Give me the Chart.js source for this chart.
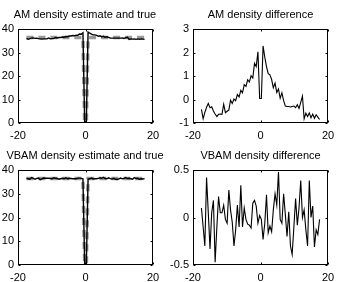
<!DOCTYPE html>
<html lang="en">
<head>
<meta charset="UTF-8">
<title>AM / VBAM density</title>
<script src="https://cdn.jsdelivr.net/npm/chart.js"></script>
<style>
    body { margin: 0; background: #fff; }
    #wrap { position: relative; width: 339px; height: 282px; overflow: hidden; }
    canvas { position: absolute; }
</style>
</head>
<body>
<div id="wrap">
    <canvas id="amEst" width="170" height="141" style="left:0;top:0"></canvas>
    <canvas id="amDiff" width="185" height="141" style="left:168px;top:0"></canvas>
    <canvas id="vbEst" width="170" height="141" style="left:0;top:141px"></canvas>
    <canvas id="vbDiff" width="185" height="141" style="left:168px;top:141px"></canvas>
</div>
<script>
// grid points (x)
const xs = [-17.50, -16.99, -16.49, -15.98, -15.47, -14.96, -14.46, -13.95, -13.44, -12.93,
    -12.43, -11.92, -11.41, -10.91, -10.40, -9.89, -9.38, -8.88, -8.37, -7.86,
    -7.36, -6.85, -6.34, -5.83, -5.33, -4.82, -4.31, -3.80, -3.30, -2.79,
    -2.28, -1.78, -1.27, -0.76, -0.25, 0.25, 0.76, 1.27, 1.78, 2.28,
    2.79, 3.30, 3.80, 4.31, 4.82, 5.33, 5.83, 6.34, 6.85, 7.36,
    7.86, 8.37, 8.88, 9.38, 9.89, 10.40, 10.91, 11.41, 11.92, 12.43,
    12.93, 13.44, 13.95, 14.46, 14.96, 15.47, 15.98, 16.49, 16.99, 17.50];

// true density (gray dashed)
const trueDensity = [36.4, 36.4, 36.4, 36.4, 36.4, 36.4, 36.4, 36.4, 36.4, 36.4,
    36.4, 36.4, 36.4, 36.4, 36.4, 36.4, 36.4, 36.4, 36.4, 36.4,
    36.4, 36.4, 36.4, 36.4, 36.4, 36.4, 36.4, 36.4, 36.4, 36.4,
    36.4, 36.4, 36.4, 36.4, 0.5, 0.5, 36.4, 36.4, 36.4, 36.4,
    36.4, 36.4, 36.4, 36.4, 36.4, 36.4, 36.4, 36.4, 36.4, 36.4,
    36.4, 36.4, 36.4, 36.4, 36.4, 36.4, 36.4, 36.4, 36.4, 36.4,
    36.4, 36.4, 36.4, 36.4, 36.4, 36.4, 36.4, 36.4, 36.4, 36.4];

// AM estimate and difference
const amEst = [36.0, 35.6, 35.9, 36.1, 36.2, 36.0, 36.1, 35.9, 35.8, 35.7,
    35.8, 35.8, 35.8, 36.2, 35.8, 35.9, 36.0, 36.4, 36.2, 36.4,
    36.4, 36.6, 36.5, 36.8, 36.7, 37.0, 37.0, 37.2, 37.1, 37.4,
    37.3, 37.9, 37.8, 38.4, 0.5, 0.5, 38.7, 38.2, 37.8, 37.5,
    37.5, 37.3, 36.9, 37.1, 36.7, 36.9, 36.5, 36.7, 36.4, 36.1,
    36.1, 36.1, 36.1, 36.1, 36.1, 36.1, 36.2, 36.0, 36.3, 36.5,
    35.6, 35.8, 35.7, 35.8, 35.6, 35.8, 35.6, 35.8, 35.7, 35.6];
const amDiff = [-0.42, -0.82, -0.55, -0.33, -0.17, -0.35, -0.31, -0.49, -0.62, -0.73,
    -0.63, -0.62, -0.63, -0.20, -0.56, -0.50, -0.45, -0.03, -0.17, 0.02,
    -0.05, 0.21, 0.11, 0.39, 0.28, 0.63, 0.56, 0.84, 0.74, 1.01,
    0.91, 1.54, 1.40, 2.03, 0.04, 0.04, 2.28, 1.80, 1.40, 1.10,
    1.05, 0.85, 0.50, 0.70, 0.30, 0.45, 0.05, 0.28, -0.05, -0.28,
    -0.30, -0.30, -0.32, -0.30, -0.28, -0.35, -0.22, -0.38, -0.12, 0.14,
    -0.82, -0.58, -0.72, -0.57, -0.78, -0.62, -0.80, -0.65, -0.75, -0.85];

// VBAM estimate and difference
const vbEst = [36.5, 36.3, 36.1, 36.8, 36.5, 36.1, 36.5, 36.6, 35.9, 36.3,
    36.6, 36.5, 36.5, 36.5, 36.4, 36.3, 36.7, 36.5, 36.4, 36.1,
    36.3, 36.5, 36.3, 36.7, 36.3, 36.5, 36.4, 36.3, 36.3, 36.3,
    36.6, 36.6, 36.5, 36.3, 0.5, 0.5, 36.2, 36.3, 36.6, 36.2,
    36.3, 36.3, 36.5, 36.7, 36.5, 36.9, 36.4, 36.3, 36.7, 36.4,
    36.2, 36.5, 36.1, 36.0, 36.3, 36.6, 36.3, 36.5, 36.8, 36.4,
    36.5, 36.3, 36.1, 36.8, 36.4, 36.5, 36.1, 36.3, 36.2, 36.4];
const vbDiff = [0.10, -0.10, -0.30, 0.42, 0.05, -0.33, 0.05, 0.18, -0.47, -0.10,
    0.22, 0.05, 0.05, 0.13, -0.02, -0.06, 0.29, 0.08, -0.05, -0.30,
    -0.13, 0.13, -0.10, 0.34, -0.10, 0.10, -0.02, -0.07, -0.08, -0.11,
    0.15, 0.18, 0.12, -0.06, 0.02, -0.02, -0.23, -0.06, 0.24, -0.16,
    -0.09, -0.15, 0.08, 0.25, 0.13, 0.48, -0.02, -0.06, 0.25, 0.03,
    -0.20, 0.06, -0.30, -0.39, -0.10, 0.20, -0.08, 0.10, 0.39, 0.00,
    0.08, -0.13, -0.30, 0.39, 0.00, 0.12, -0.31, -0.13, -0.18, -0.02];

// tick labels
const xTicks = [-20, 0, 20];
const estTicks = [0, 10, 20, 30, 40];
const amDiffTicks = [-1, 0, 1, 2, 3];
const vbDiffTicks = [-0.5, 0, 0.5];

const FONT = { family: '"Liberation Sans", Arial, Helvetica, sans-serif', size: 11, weight: 'normal' };

const pts = vals => xs.map((x, i) => ({ x: x, y: vals[i] }));

// box around plot area with small inward ticks on all sides
const boxPlugin = {
    id: 'box',
    afterDraw(chart) {
        const { ctx, chartArea: a, scales } = chart;
        const L = Math.round(a.left) + 0.5, R = Math.round(a.right) - 0.5;
        const T = Math.round(a.top) + 0.5, B = Math.round(a.bottom) - 0.5;
        ctx.save();
        ctx.strokeStyle = '#000';
        ctx.lineWidth = 1;
        ctx.strokeRect(L, T, R - L, B - T);
        ctx.beginPath();
        scales.x.ticks.forEach(t => {
            const p = Math.round(scales.x.getPixelForValue(t.value)) + 0.5;
            ctx.moveTo(p, B); ctx.lineTo(p, B - 2);
            ctx.moveTo(p, T); ctx.lineTo(p, T + 2);
        });
        scales.y.ticks.forEach(t => {
            const p = Math.round(scales.y.getPixelForValue(t.value)) + 0.5;
            ctx.moveTo(L, p); ctx.lineTo(L + 2, p);
            ctx.moveTo(R, p); ctx.lineTo(R - 2, p);
        });
        ctx.stroke();
        ctx.restore();
    }
};

function panel(id, cfg) {
    return new Chart(document.getElementById(id), {
        type: 'line',
        data: { datasets: cfg.sets },
        options: {
            responsive: false,
            animation: false,
            devicePixelRatio: 1,
            layout: { padding: 0 },
            plugins: {
                legend: { display: false },
                tooltip: { enabled: false },
                title: {
                    display: true, text: cfg.title, color: '#000',
                    font: FONT, padding: { top: 8, bottom: 7.8 }
                }
            },
            scales: {
                x: {
                    type: 'linear', min: -20, max: 20,
                    grid: { display: false, drawTicks: false }, border: { display: false },
                    afterBuildTicks: s => { s.ticks = xTicks.map(v => ({ value: v })); },
                    afterFit: s => { s.height = cfg.axisH; },
                    ticks: { color: '#000', font: FONT, padding: 6, maxRotation: 0, autoSkip: false,
                        callback: v => String(v) }
                },
                y: {
                    type: 'linear', min: cfg.yTicks[0], max: cfg.yTicks[cfg.yTicks.length - 1],
                    grid: { display: false, drawTicks: false }, border: { display: false },
                    afterBuildTicks: s => { s.ticks = cfg.yTicks.map(v => ({ value: v })); },
                    afterFit: s => { s.width = cfg.axisW; },
                    ticks: { color: '#000', font: FONT, padding: 4, autoSkip: false,
                        callback: v => String(v) }
                },
                // empty right margin so the title centres over the plot
                margin: {
                    type: 'linear', position: 'right', display: true,
                    grid: { display: false, drawTicks: false }, border: { display: false },
                    ticks: { display: false },
                    afterFit: s => { s.width = cfg.marginR; }
                }
            },
            elements: { point: { radius: 0 }, line: { tension: 0 } }
        },
        plugins: [boxPlugin]
    });
}

const estLine = vals => ({ data: pts(vals), borderColor: '#000', borderWidth: 1.4, order: 0 });
const trueLine = () => ({ data: pts(trueDensity), borderColor: '#999', borderWidth: 3.5,
    borderDash: [7, 5], order: 1 });
const diffLine = vals => ({ data: pts(vals), borderColor: '#000', borderWidth: 1.1 });

panel('amEst', { title: 'AM density estimate and true', sets: [estLine(amEst), trueLine()],
    yTicks: estTicks, axisW: 18, axisH: 18, marginR: 17 });
panel('amDiff', { title: 'AM density difference', sets: [diffLine(amDiff)],
    yTicks: amDiffTicks, axisW: 25, axisH: 18, marginR: 25 });
panel('vbEst', { title: 'VBAM density estimate and true', sets: [estLine(vbEst), trueLine()],
    yTicks: estTicks, axisW: 18, axisH: 17, marginR: 17 });
panel('vbDiff', { title: 'VBAM density difference', sets: [diffLine(vbDiff)],
    yTicks: vbDiffTicks, axisW: 25, axisH: 17, marginR: 25 });
</script>
</body>
</html>
